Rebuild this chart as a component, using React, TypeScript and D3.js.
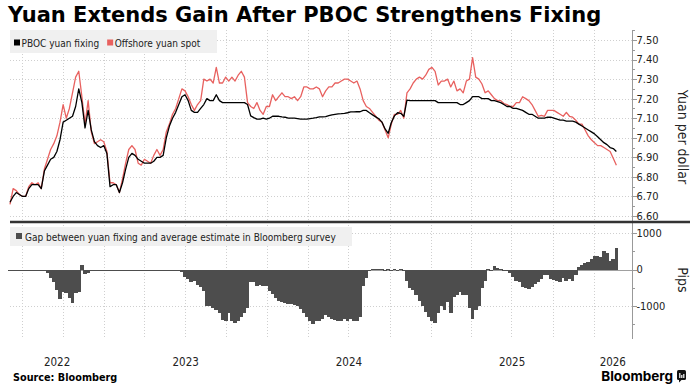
import React, { useEffect, useRef } from 'react';
import * as d3 from 'd3';

// weekly samples, first one on 4 Jun 2022
const firstWeek = new Date(2022, 5, 4);

const pbocFixing = [
  6.67, 6.70, 6.72, 6.71, 6.70, 6.70, 6.74, 6.76, 6.76, 6.76,
  6.74, 6.83, 6.86, 6.89, 6.90, 6.93, 6.99, 7.08, 7.09, 7.10,
  7.11, 7.16, 7.25, 7.18, 7.05, 7.14, 7.04, 6.98, 6.96, 6.95,
  6.96, 6.92, 6.75, 6.76, 6.76, 6.72, 6.77, 6.84, 6.90, 6.92,
  6.91, 6.89, 6.88, 6.87, 6.87, 6.87, 6.88, 6.90, 6.90, 6.91,
  7.00, 7.06, 7.10, 7.13, 7.17, 7.21, 7.22, 7.19, 7.14, 7.13,
  7.13, 7.15, 7.17, 7.20, 7.19, 7.19, 7.22, 7.19, 7.18, 7.18,
  7.18, 7.18, 7.18, 7.18, 7.18, 7.18, 7.17, 7.112, 7.103, 7.095,
  7.095, 7.100, 7.095, 7.100, 7.110, 7.110, 7.110, 7.107, 7.105, 7.100,
  7.100, 7.100, 7.098, 7.095, 7.095, 7.095, 7.098, 7.100, 7.103, 7.107,
  7.107, 7.108, 7.113, 7.117, 7.120, 7.122, 7.123, 7.125, 7.128, 7.132,
  7.132, 7.133, 7.133, 7.140, 7.140, 7.128, 7.117, 7.107, 7.097, 7.080,
  7.045, 7.023, 7.078, 7.112, 7.128, 7.125, 7.110, 7.193, 7.19, 7.19,
  7.19, 7.19, 7.19, 7.19, 7.19, 7.19, 7.19, 7.18, 7.18, 7.18,
  7.18, 7.18, 7.18, 7.18, 7.17, 7.17, 7.18, 7.19, 7.21, 7.21,
  7.21, 7.20, 7.20, 7.20, 7.19, 7.19, 7.185, 7.18, 7.17, 7.16,
  7.16, 7.15, 7.15, 7.145, 7.14, 7.13, 7.12, 7.12, 7.11, 7.10,
  7.10, 7.10, 7.105, 7.105, 7.10, 7.095, 7.09, 7.09, 7.085, 7.085,
  7.085, 7.08, 7.07, 7.06, 7.05, 7.04, 7.03, 7.02, 7.005, 6.99,
  6.975, 6.965, 6.95, 6.945, 6.93,
];

const offshoreSpot = [
  6.66, 6.74, 6.73, 6.71, 6.70, 6.70, 6.75, 6.77, 6.76, 6.77,
  6.74, 6.84, 6.89, 6.94, 6.97, 7.01, 7.08, 7.17, 7.10, 7.15,
  7.23, 7.31, 7.34, 7.21, 7.07, 7.19, 7.03, 6.97, 6.98, 6.99,
  6.98, 6.93, 6.77, 6.77, 6.76, 6.72, 6.79, 6.87, 6.94, 6.96,
  6.94, 6.87, 6.86, 6.89, 6.88, 6.87, 6.91, 6.94, 6.91, 6.94,
  7.03, 7.07, 7.12, 7.15, 7.20, 7.25, 7.24, 7.21, 7.17, 7.14,
  7.17, 7.19, 7.30, 7.29, 7.30, 7.28, 7.36, 7.28, 7.28, 7.31,
  7.29, 7.31, 7.29, 7.32, 7.34, 7.31, 7.18, 7.16, 7.15, 7.18,
  7.14, 7.12, 7.16, 7.16, 7.22, 7.19, 7.21, 7.23, 7.21, 7.21,
  7.20, 7.21, 7.19, 7.21, 7.26, 7.26, 7.25, 7.25, 7.26, 7.25,
  7.21, 7.24, 7.26, 7.26, 7.28, 7.28, 7.29, 7.30, 7.30, 7.29,
  7.28, 7.29, 7.25, 7.19, 7.16, 7.15, 7.13, 7.11, 7.09, 7.08,
  7.04, 7.00, 7.07, 7.12, 7.12, 7.14, 7.10, 7.23, 7.25, 7.28,
  7.30, 7.31, 7.30, 7.32, 7.35, 7.36, 7.34, 7.27, 7.29, 7.29,
  7.30, 7.26, 7.29, 7.24, 7.25, 7.23, 7.29, 7.30, 7.41, 7.31,
  7.30, 7.275, 7.23, 7.24, 7.22, 7.20, 7.19, 7.19, 7.175, 7.17,
  7.16, 7.16, 7.18, 7.18, 7.21, 7.20, 7.19, 7.17, 7.14, 7.11,
  7.115, 7.11, 7.14, 7.14, 7.14, 7.13, 7.12, 7.11, 7.13, 7.11,
  7.105, 7.09, 7.07, 7.07, 7.04, 7.01, 6.99, 6.975, 6.96, 6.96,
  6.95, 6.94, 6.93, 6.895, 6.86,
];

// pips
const fixingGap = [
  -10, -10, -5, -10, -15, -5, -10, -20, -10, -15,
  -10, -20, -80, -220, -350, -550, -800, -600, -650, -780,
  -920, -650, -600, 140, -120, -90, -40, -20, -10, -20,
  -15, -10, -20, -10, -15, -25, -10, -15, -20, -10,
  -15, -10, -20, -15, -10, -20, -10, -15, -20, -10,
  -15, -20, -10, -15, -20, -60, -200, -260, -330, -320,
  -420, -480, -580, -1000, -1000, -1050, -1100, -1200, -1380, -1400,
  -1200, -1400, -1450, -1400, -1300, -1200, -1050, -350, -350, -450,
  -420, -450, -460, -580, -680, -780, -870, -900, -920, -950,
  -950, -970, -1000, -1080, -1200, -1300, -1400, -1500, -1400, -1400,
  -1350, -1250, -1300, -1350, -1380, -1400, -1400, -1350, -1400, -1350,
  -1400, -1400, -1300, -450, -240, -50, 25, 15, 5, 5,
  0, 5, 0, 5, 0, 5, 0, -300, -500, -550,
  -700, -870, -1000, -1150, -1300, -1420, -1450, -1200, -1000, -1100,
  -900, -1200, -750, -700, -620, -700, -700, -1050, -1350, -1100,
  -1000, -500, -300, 30, -50, 90, 50, 30, -50, -50,
  -100, -200, -300, -350, -480, -500, -540, -480, -400, -330,
  -250, -150, -150, -250, -280, -300, -350, -220, -300, -250,
  -300, -150, 60, 130, 180, 220, 280, 360, 380, 350,
  520, 450, 250, 300, 600,
];

const seriesNames = ['PBOC yuan fixing', 'Offshore yuan spot'];
const gapName = 'Gap between yuan fixing and average estimate in Bloomberg survey';
const years = [2022, 2023, 2024, 2025, 2026];
const priceTicks = [6.6, 6.7, 6.8, 6.9, 7.0, 7.1, 7.2, 7.3, 7.4, 7.5];
const pipTicks = [-1000, 0, 1000];

const FONT = "'DejaVu Sans Condensed', 'DejaVu Sans', sans-serif";
const RED = '#e8615f';
const BAR = '#4d4d4d';

const App = () => {
  const svgRef = useRef<SVGSVGElement>(null);

  useEffect(() => {
    const svg = d3.select(svgRef.current);
    svg.selectAll('*').remove();

    const left = 10, right = 632;
    const dates = pbocFixing.map((_, i) => d3.timeDay.offset(firstWeek, 7 * i));
    const domainStart = new Date(2022, 5, 4);
    const domainEnd = new Date(2026, 2, 28);

    const x = d3.scaleTime().domain([domainStart, domainEnd]).range([left, right]);
    const yTop = d3.scaleLinear().domain([6.6, 7.5]).range([216, 40]);
    const yBot = d3.scaleLinear().domain([-1900, 1250]).range([339, 224]);

    const grid = svg.append('g')
      .attr('stroke', '#cfcfcf')
      .attr('stroke-dasharray', '1,2')
      .attr('stroke-width', 1);

    // vertical quarter lines
    const quarters = d3.timeMonth.every(3)!.range(domainStart, domainEnd);
    grid.selectAll('.vq').data(quarters).enter().append('line')
      .attr('x1', d => Math.round(x(d)) + 0.5).attr('x2', d => Math.round(x(d)) + 0.5)
      .attr('y1', 30).attr('y2', 339);

    grid.selectAll('.ht').data(priceTicks).enter().append('line')
      .attr('x1', left).attr('x2', right)
      .attr('y1', d => Math.round(yTop(d)) + 0.5).attr('y2', d => Math.round(yTop(d)) + 0.5);

    grid.selectAll('.hb').data(pipTicks.filter(d => d !== 0)).enter().append('line')
      .attr('x1', left).attr('x2', right)
      .attr('y1', d => Math.round(yBot(d)) + 0.5).attr('y2', d => Math.round(yBot(d)) + 0.5);

    // legends (top)
    svg.append('rect').attr('x', 10).attr('y', 30).attr('width', 207).attr('height', 23).attr('fill', '#f0f0f0');
    const leg = svg.append('g').attr('font-family', FONT).attr('font-size', 10).attr('fill', '#222');
    leg.append('rect').attr('x', 14).attr('y', 39.5).attr('width', 6).attr('height', 6).attr('fill', '#000');
    const t1 = leg.append('text').attr('x', 21.5).attr('y', 46.5).text(seriesNames[0]);
    const w1 = (t1.node() as SVGTextElement).getComputedTextLength();
    const x2 = 21.5 + w1 + 8;
    leg.append('rect').attr('x', x2).attr('y', 39.5).attr('width', 6).attr('height', 6).attr('fill', RED);
    leg.append('text').attr('x', x2 + 7.5).attr('y', 46.5).text(seriesNames[1]);

    // lines
    const line = d3.line<number>()
      .x((_, i) => x(dates[i]))
      .y(d => yTop(d));

    svg.append('path').datum(offshoreSpot)
      .attr('fill', 'none').attr('stroke', RED).attr('stroke-width', 1.3)
      .attr('stroke-linejoin', 'round').attr('d', line);
    svg.append('path').datum(pbocFixing)
      .attr('fill', 'none').attr('stroke', '#000').attr('stroke-width', 1.3)
      .attr('stroke-linejoin', 'round').attr('d', line);

    // bottom panel
    svg.append('rect').attr('x', 10).attr('y', 227).attr('width', 342).attr('height', 19).attr('fill', '#f0f0f0');
    const leg2 = svg.append('g').attr('font-family', FONT).attr('font-size', 10).attr('fill', '#222');
    leg2.append('rect').attr('x', 16).attr('y', 233).attr('width', 6).attr('height', 6).attr('fill', BAR);
    leg2.append('text').attr('x', 25).attr('y', 240.5).text(gapName);

    svg.append('line')
      .attr('x1', left).attr('x2', right)
      .attr('y1', Math.round(yBot(0)) + 0.5).attr('y2', Math.round(yBot(0)) + 0.5)
      .attr('stroke', '#a0a0a0');

    const step = x(dates[1]) - x(dates[0]);
    const bw = step + 0.6;
    svg.append('g').attr('shape-rendering', 'crispEdges')
      .selectAll('rect').data(fixingGap).enter().append('rect')
      .attr('x', (_, i) => x(dates[i]) - bw / 2)
      .attr('y', d => Math.min(yBot(d), yBot(0)))
      .attr('width', bw)
      .attr('height', d => Math.max(1, Math.abs(yBot(d) - yBot(0))))
      .attr('fill', BAR);

    // right axis
    const ax = svg.append('g').attr('font-family', FONT).attr('font-size', 11).attr('fill', '#222');
    ax.append('line').attr('x1', right + 0.5).attr('x2', right + 0.5).attr('y1', 30).attr('y2', 339)
      .attr('stroke', '#999');
    const minorTop = d3.range(6.55, 7.56, 0.1);
    ax.selectAll('.mt').data(minorTop.filter(d => yTop(d) > 30 && yTop(d) < 220)).enter().append('line')
      .attr('x1', right).attr('x2', right + 3)
      .attr('y1', d => Math.round(yTop(d)) + 0.5).attr('y2', d => Math.round(yTop(d)) + 0.5)
      .attr('stroke', '#999');
    ax.selectAll('.Mt').data(priceTicks).enter().append('line')
      .attr('x1', right).attr('x2', right + 5)
      .attr('y1', d => Math.round(yTop(d)) + 0.5).attr('y2', d => Math.round(yTop(d)) + 0.5)
      .attr('stroke', '#999');
    ax.selectAll('.lt').data(priceTicks).enter().append('text')
      .attr('x', right + 4.5).attr('y', d => yTop(d)).attr('dy', '0.35em')
      .text(d => d3.format('.2f')(d));

    ax.selectAll('.mb').data([-1500, -500, 500]).enter().append('line')
      .attr('x1', right).attr('x2', right + 3)
      .attr('y1', d => Math.round(yBot(d)) + 0.5).attr('y2', d => Math.round(yBot(d)) + 0.5)
      .attr('stroke', '#999');
    ax.selectAll('.Mb').data(pipTicks).enter().append('line')
      .attr('x1', right).attr('x2', right + 5)
      .attr('y1', d => Math.round(yBot(d)) + 0.5).attr('y2', d => Math.round(yBot(d)) + 0.5)
      .attr('stroke', '#999');
    ax.selectAll('.lb').data(pipTicks).enter().append('text')
      .attr('x', right + 4.5).attr('y', d => yBot(d)).attr('dy', '0.35em')
      .text(d => String(d));

    ax.append('text').attr('transform', 'translate(678,137) rotate(90)')
      .attr('text-anchor', 'middle').attr('font-size', 14).text('Yuan per dollar');
    ax.append('text').attr('transform', 'translate(678,280) rotate(90)')
      .attr('text-anchor', 'middle').attr('font-size', 14).text('Pips');

    // divider
    svg.append('line').attr('x1', 10).attr('x2', 690).attr('y1', 222).attr('y2', 222)
      .attr('stroke', '#333').attr('stroke-width', 2.5);

    // year labels centred in the visible part of each year
    svg.append('g').attr('font-family', FONT).attr('font-size', 11.5).attr('fill', '#222')
      .selectAll('text').data(years).enter().append('text')
      .attr('text-anchor', 'middle').attr('y', 366)
      .attr('x', d => {
        const s = Math.max(+new Date(d, 0, 1), +domainStart);
        const e = Math.min(+new Date(d + 1, 0, 1), +domainEnd);
        return (x(new Date(s)) + x(new Date(e))) / 2;
      })
      .text(d => String(d));

    // title and footer
    svg.append('text').attr('x', 8).attr('y', 22)
      .attr('font-family', "'DejaVu Sans', sans-serif").attr('font-weight', 'bold').attr('font-size', 21)
      .attr('fill', '#000').text('Yuan Extends Gain After PBOC Strengthens Fixing');
    svg.append('text').attr('x', 13).attr('y', 381)
      .attr('font-family', "'DejaVu Sans', sans-serif").attr('font-weight', 'bold').attr('font-size', 9.7)
      .attr('fill', '#000').text('Source:  Bloomberg');

    svg.append('text').attr('x', 673).attr('y', 381).attr('text-anchor', 'end')
      .attr('font-family', 'Inter, sans-serif').attr('font-weight', 700).attr('font-size', 13.5)
      .attr('fill', '#000').text('Bloomberg');
    const logo = svg.append('g').attr('transform', 'translate(677,370)');
    logo.append('rect').attr('width', 9).attr('height', 10).attr('rx', 1.5).attr('fill', '#111');
    logo.append('path').attr('d', 'M2,9.5 L2,12.5 L5,9.5 Z').attr('fill', '#111');
    [[2.2, 5], [4.2, 3], [6.2, 4]].forEach(([bx, bh]) => {
      logo.append('rect').attr('x', bx).attr('y', 8 - bh).attr('width', 1.2).attr('height', bh).attr('fill', '#fff');
    });
  }, []);

  return (
    <svg ref={svgRef} width={695} height={392}
      style={{ position: 'absolute', left: 0, top: 0, background: '#fff' }}></svg>
  );
};

export default App;
